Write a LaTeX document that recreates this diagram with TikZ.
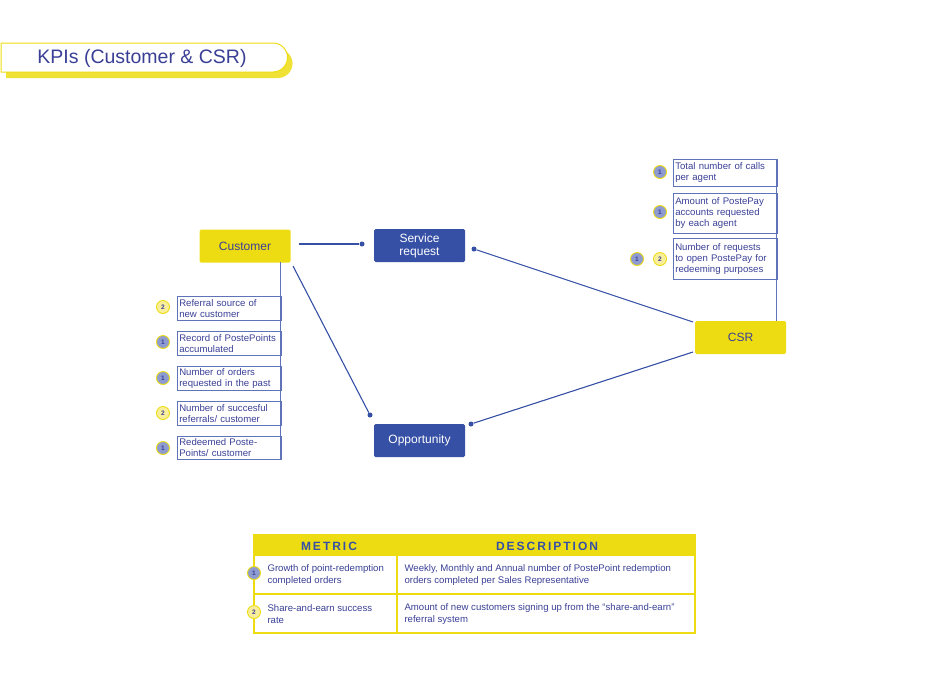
\documentclass[tikz,border=0pt]{standalone}
\usepackage{fontspec}
\setmainfont{Liberation Sans}
\begin{document}
\begin{tikzpicture}[x=1pt,y=-1pt,
 every node/.style={font=\fontsize{9.6}{11.2}\selectfont, text=tx},
 ybox/.style={fill=yl, minimum width=91, minimum height=33, rounded corners=1.5, font=\fontsize{12}{13}\selectfont, text=tx},
 bbox/.style={fill=bl, minimum width=91, minimum height=33, rounded corners=1.5, font=\fontsize{12}{13}\selectfont, text=white, align=center},
 kbox/.style={draw=bl!80, line width=0.6, anchor=north west, minimum width=103, inner xsep=2, inner ysep=1.5, align=left, text width=100},
 c1/.style={circle, fill=cb, draw=yl, line width=0.9, minimum size=13, inner sep=0, font=\fontsize{6.5}{6.5}\selectfont\bfseries, text=tx},
 c2/.style={circle, fill=cy, draw=yl, line width=0.9, minimum size=13, inner sep=0, font=\fontsize{6.5}{6.5}\selectfont\bfseries, text=tx},
 con/.style={draw=bl, line width=1.1},
 dot/.style={circle, fill=bl, inner sep=0, minimum size=5}]
\definecolor{yl}{HTML}{EEDC12}
\definecolor{bl}{HTML}{3650A6}
\definecolor{tx}{HTML}{3A3F96}
\definecolor{cb}{HTML}{8D9BD0}
\definecolor{cy}{HTML}{F8EE9C}
\useasboundingbox (0,0) rectangle (941,672);
% title
\fill[yl!85] (6,49) -- (278,49) arc[start angle=-90,end angle=90,radius=14.5] -- (6,78) -- cycle;
\draw[yl, line width=1, fill=white] (1,43) -- (273,43) arc[start angle=-90,end angle=90,radius=14.5] -- (1,72) -- cycle;
\node[font=\fontsize{19.5}{22}\selectfont] (title) at (142,58) {KPIs (Customer \& CSR)};
% main nodes
\node[ybox] (cust) at (245,246) {Customer};
\node[bbox] (serv) at (419.5,245.5) {Service\\request};
\node[bbox] (opp) at (419.5,440.5) {Opportunity};
\node[ybox] (csr) at (740.5,337.5) {CSR};
\node[dot] (d1) at (362,244) {};
\node[dot] (d2) at (370,415) {};
\node[dot] (d3) at (474,249) {};
\node[dot] (d4) at (471,424) {};
\coordinate (e1) at (299,244);
\coordinate (e2) at (293,266);
\coordinate (e3) at (693,322);
\coordinate (e4) at (693,352);
\draw[con] (e1) -- (d1);
\draw[con] (e2) -- (d2);
\draw[con] (d3) -- (e3);
\draw[con] (e4) -- (d4);
% customer KPIs
\coordinate (ct) at (280,262);
\coordinate (cbm) at (280,459);
\draw[bl!80, line width=0.6] (ct) -- (cbm);
\node[kbox, minimum height=24] (k1) at (177,296) {Referral source of\\new customer};
\node[kbox, minimum height=24] (k2) at (177,331) {Record of PostePoints\\accumulated};
\node[kbox, minimum height=24] (k3) at (177,366) {Number of orders\\requested in the past};
\node[kbox, minimum height=24] (k4) at (177,401) {Number of succesful\\referrals/ customer};
\node[kbox, minimum height=23] (k5) at (177,436) {Redeemed Poste-\\Points/ customer};
\node[c2] (n1) at (163,307) {2};
\node[c1] (n2) at (163,342) {1};
\node[c1] (n3) at (163,378) {1};
\node[c2] (n4) at (163,413) {2};
\node[c1] (n5) at (163,448) {1};
% CSR KPIs
\coordinate (rt) at (776,159);
\draw[bl!80, line width=0.6] (rt) -- (csr.north -| rt);
\node[kbox, minimum height=27] (r1) at (673,159) {Total number of calls\\per agent};
\node[kbox, minimum height=40] (r2) at (673,193) {Amount of PostePay\\accounts requested\\by each agent};
\node[kbox, minimum height=41] (r3) at (673,238) {Number of requests\\to open PostePay for\\redeeming purposes};
\node[c1] (m1) at (660,172) {1};
\node[c1] (m2) at (660,212) {1};
\node[c1] (m3) at (637,259) {1};
\node[c2] (m4) at (660,259) {2};
% table
\fill[yl] (254,535) rectangle (695,556);
\draw[yl, line width=1.2] (254,535) rectangle (695,633);
\draw[yl, line width=1.2] (254,594) -- (695,594) (397,556) -- (397,633);
\node[font=\fontsize{12}{13}\selectfont\bfseries, text=bl] (h1) at (329,546) {M\,E\,T\,R\,I\,C};
\node[font=\fontsize{12}{13}\selectfont\bfseries, text=bl] (h2) at (547,546) {D\,E\,S\,C\,R\,I\,P\,T\,I\,O\,N};
\node[anchor=west, align=left] (t1) at (264,575) {Growth of point-redemption\\completed orders};
\node[anchor=west, align=left] (t2) at (264,614) {Share-and-earn success\\rate};
\node[anchor=west, align=left] (t3) at (401,575) {Weekly, Monthly and Annual number of PostePoint redemption\\orders completed per Sales Representative};
\node[anchor=west, align=left] (t4) at (401,614) {Amount of new customers signing up from the ``share-and-earn''\\referral system};
\node[c1] (tc1) at (254,573) {1};
\node[c2] (tc2) at (254,612) {2};
\end{tikzpicture}
\end{document}
